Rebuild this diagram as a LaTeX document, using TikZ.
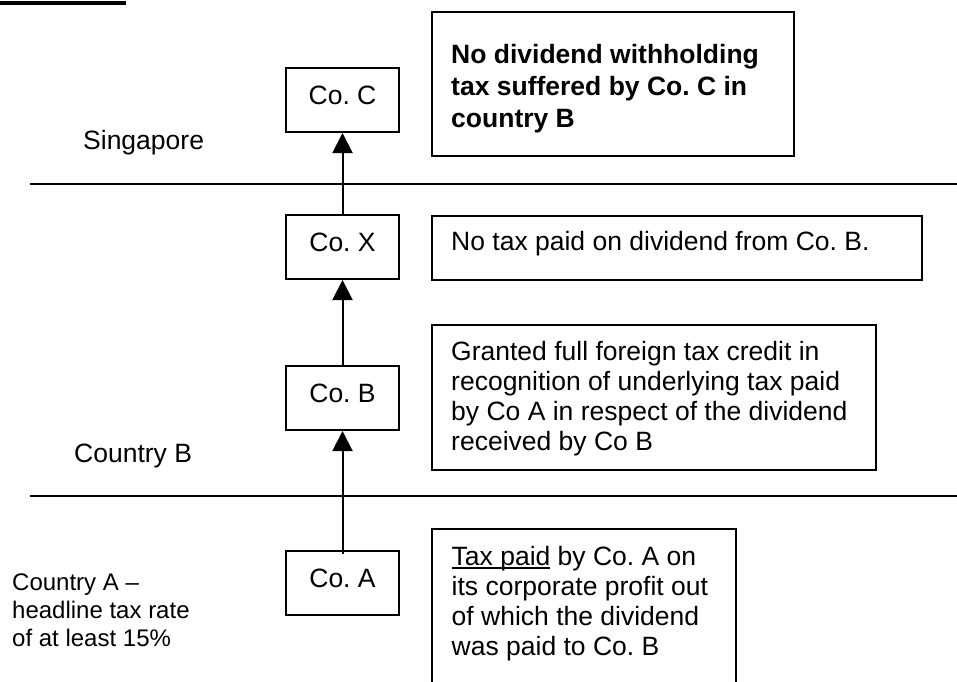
\documentclass[tikz,border=0pt]{standalone}
\usepackage{fontspec}
\setmainfont{Liberation Sans}
\usetikzlibrary{arrows.meta}

% underline drawn as a rule a little below the baseline
\newcommand\lineunder[1]{\leavevmode\setbox0\hbox{#1}\rlap{\rule[-3.5pt]{\wd0}{1.8pt}}\box0\relax}

\tikzset{
  rule/.style={line width=2pt},
  cobox/.style={draw, line width=2pt, minimum width=113pt, minimum height=64pt,
    inner sep=0pt, text height=19pt, text depth=11pt,
    font=\fontsize{26.5}{30}\selectfont},
  notebox/.style={draw, line width=2pt, anchor=north west, inner sep=0pt},
  note/.style={anchor=base west, inner sep=0pt, font=\fontsize{26.5}{30}\selectfont},
  boldnote/.style={anchor=base west, inner sep=0pt, font=\fontsize{26.5}{32}\selectfont\bfseries},
  region/.style={anchor=base west, inner sep=0pt, font=\fontsize{26.5}{30}\selectfont},
  smallregion/.style={anchor=base west, inner sep=0pt, font=\fontsize{24}{28}\selectfont},
  arr/.style={line width=2pt, -{Triangle[length=20pt,width=20pt]}}
}

\begin{document}
\frenchspacing
\begin{tikzpicture}[x=1pt,y=-1pt]
\useasboundingbox (0,0) rectangle (957,681);
\begin{scope}
\clip (0,0) rectangle (957,681);

% heading bar
\fill (0,0.7) rectangle (126,4.7);

% borders between the jurisdictions
\draw[rule] (30,184) -- (957,184);
\draw[rule] (30,496) -- (957,496);

% jurisdiction labels
\node[region] (sg) at (83,149) {Singapore};
\node[region] (cb) at (74,462) {Country B};
\node[smallregion] (ca) at (12,590) {\parbox[t]{200pt}{\raggedright Country A –\\headline tax rate\\of at least 15\%}};

% companies
\node[cobox] (C) at (342.5,100) {Co. C};
\node[cobox] (X) at (342.5,247) {Co. X};
\node[cobox] (B) at (342.5,398) {Co. B};
\node[cobox] (A) at (342.5,583) {Co. A};

% dividend flow
\draw[arr] ([yshift=-4pt]A.north) -- (B.south);
\draw[arr] (B.north) -- (X.south);
\draw[arr] (X.north) -- (C.south);

% explanatory boxes
\node[notebox, minimum width=362pt, minimum height=144pt] (nC) at (430.7,11) {};
\node[notebox, minimum width=490pt, minimum height=64pt] (nX) at (430.7,215) {};
\node[notebox, minimum width=444pt, minimum height=145pt] (nB) at (430.7,324) {};
\node[notebox, minimum width=304pt, minimum height=175pt] (nA) at (430.7,528) {};

\node[boldnote] (tC) at (451,63) {\parbox[t]{330pt}{\raggedright No dividend withholding\\tax suffered by Co. C in\\country B}};
\node[note] (tX) at (451,250) {No tax paid on dividend from Co. B.};
\node[note] (tB) at (451,360) {\parbox[t]{410pt}{\raggedright Granted full foreign tax credit in\\recognition of underlying tax paid\\by Co A in respect of the dividend\\received by Co B}};
\node[note] (tA) at (451.5,565) {\parbox[t]{270pt}{\raggedright \lineunder{Tax paid} by Co. A on\\its corporate profit out\\of which the dividend\\was paid to Co. B}};
\end{scope}
\end{tikzpicture}
\end{document}
